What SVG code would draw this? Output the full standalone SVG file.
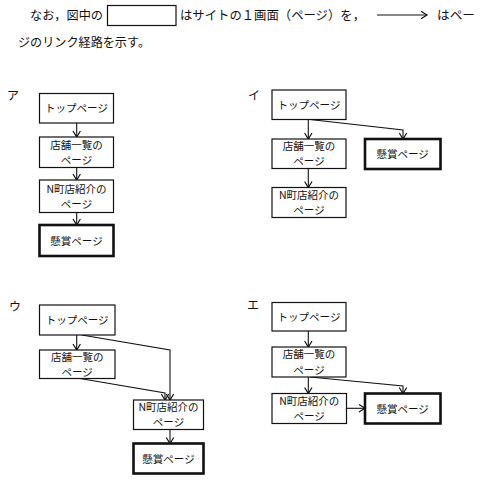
<svg xmlns="http://www.w3.org/2000/svg" width="480" height="488" viewBox="0 0 480 488">
<defs>
<marker id="ah" markerUnits="userSpaceOnUse" markerWidth="10" markerHeight="10" viewBox="0 0 10 10" refX="7" refY="5" orient="auto">
<path d="M1,1.3 L7,5 L1,8.7" fill="none" stroke="#111" stroke-width="1.2"/>
</marker>
</defs>
<style>
text{font-family:"Noto Sans CJK JP","Noto Sans",sans-serif;fill:#111}
.h{font-size:12.5px}
.lbl{font-size:12px}
.t{font-size:10.5px;text-anchor:middle}
.b{fill:#fff;stroke:#111;stroke-width:1.2}
.bt{fill:#fff;stroke:#111;stroke-width:2.6}
.c{fill:none;stroke:#111;stroke-width:1.1;marker-end:url(#ah)}
</style>
<rect width="480" height="488" fill="#fff"/>
<g id="header">
<text class="h" x="30" y="19.5" textLength="73" lengthAdjust="spacingAndGlyphs">なお，図中の</text>
<rect x="107.5" y="5.5" width="68.5" height="20" fill="#fff" stroke="#111" stroke-width="1.2"/>
<text class="h" x="180" y="19.5" textLength="185" lengthAdjust="spacingAndGlyphs">はサイトの１画面（ページ）を，</text>
<path class="c" d="M377,15 L427,15"/>
<text class="h" x="437" y="19.5" textLength="38" lengthAdjust="spacingAndGlyphs">はペー</text>
<text class="h" x="18" y="46.5" textLength="132" lengthAdjust="spacingAndGlyphs">ジのリンク経路を示す。</text>
</g>
<g id="labels">
<text class="lbl" x="7" y="99.5">ア</text>
<text class="lbl" x="248" y="99.5">イ</text>
<text class="lbl" x="9" y="311">ウ</text>
<text class="lbl" x="247" y="309.5">エ</text>
</g>
<g id="connectors">
<path class="c" d="M76.7,123 L76.7,137"/>
<path class="c" d="M76.7,167.5 L76.7,180"/>
<path class="c" d="M76.7,212.5 L76.7,225"/>
<path class="c" d="M308.3,119.5 L308.3,139"/>
<path class="c" d="M310,119.5 L403,130 L403,139"/>
<path class="c" d="M308.3,168.5 L308.3,187.5"/>
<path class="c" d="M76.7,335 L76.7,350"/>
<path class="c" d="M81.7,335 L170,350 L170,400"/>
<path class="c" d="M80,378.5 L165,393 L165,400"/>
<path class="c" d="M170,429.5 L170,443.5"/>
<path class="c" d="M308.3,331 L308.3,347"/>
<path class="c" d="M308.3,377 L308.3,393.5"/>
<path class="c" d="M310,377 L403,386 L403,393.5"/>
<path class="c" d="M346.5,408.3 L365,408.3"/>
</g>
<g id="a-top"><rect class="b" x="39.5" y="93.5" width="74" height="29.5"/><text class="t" x="76.5" y="112.2">トップページ</text></g>
<g id="a-list"><rect class="b" x="39.5" y="137" width="74" height="30.5"/><text class="t" x="76.5" y="148.6">店舗一覧の<tspan x="76.5" dy="15.3">ページ</tspan></text></g>
<g id="a-n"><rect class="b" x="39.5" y="180" width="74" height="32.5"/><text class="t" x="76.5" y="192.6">N町店紹介の<tspan x="76.5" dy="15.3">ページ</tspan></text></g>
<g id="a-prize"><rect class="bt" x="39.5" y="225" width="74" height="31"/><text class="t" x="76.5" y="244.5">懸賞ページ</text></g>

<g id="i-top"><rect class="b" x="272" y="90" width="74" height="29.5"/><text class="t" x="309" y="108.8">トップページ</text></g>
<g id="i-list"><rect class="b" x="272" y="139" width="74" height="29.5"/><text class="t" x="309" y="150.1">店舗一覧の<tspan x="309" dy="15.3">ページ</tspan></text></g>
<g id="i-n"><rect class="b" x="272" y="187.5" width="74" height="30"/><text class="t" x="309" y="198.9">N町店紹介の<tspan x="309" dy="15.3">ページ</tspan></text></g>
<g id="i-prize"><rect class="bt" x="365" y="139" width="75.5" height="30"/><text class="t" x="402.7" y="158">懸賞ページ</text></g>

<g id="u-top"><rect class="b" x="39.5" y="305" width="75.5" height="30"/><text class="t" x="77.2" y="324">トップページ</text></g>
<g id="u-list"><rect class="b" x="39.5" y="350" width="75.5" height="28.5"/><text class="t" x="77.2" y="360.6">店舗一覧の<tspan x="77.2" dy="15.3">ページ</tspan></text></g>
<g id="u-n"><rect class="b" x="133.5" y="400" width="70" height="29.5"/><text class="t" x="168.5" y="411.1">N町店紹介の<tspan x="168.5" dy="15.3">ページ</tspan></text></g>
<g id="u-prize"><rect class="bt" x="133.5" y="443.5" width="70" height="30"/><text class="t" x="168.5" y="462.5">懸賞ページ</text></g>

<g id="e-top"><rect class="b" x="272" y="302.5" width="74" height="28.5"/><text class="t" x="309" y="320.8">トップページ</text></g>
<g id="e-list"><rect class="b" x="272" y="347" width="74" height="30"/><text class="t" x="309" y="358.4">店舗一覧の<tspan x="309" dy="15.3">ページ</tspan></text></g>
<g id="e-n"><rect class="b" x="272" y="393.5" width="74.5" height="30"/><text class="t" x="309.2" y="404.9">N町店紹介の<tspan x="309.2" dy="15.3">ページ</tspan></text></g>
<g id="e-prize"><rect class="bt" x="365" y="393.5" width="75.5" height="30"/><text class="t" x="402.7" y="412.5">懸賞ページ</text></g>
</svg>
